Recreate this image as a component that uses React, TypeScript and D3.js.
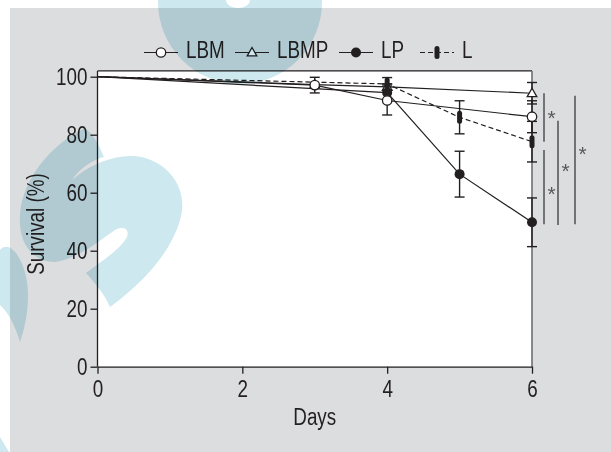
import React, { useEffect, useRef } from 'react';
import * as d3 from 'd3';

// tick labels
const dayTicks = [0, 2, 4, 6];
const survivalTicks = [0, 20, 40, 60, 80, 100];

// series (days, mean survival %, error)
const seriesNames = ['LBM', 'LBMP', 'LP', 'L'];
const lbmDays = [0, 3, 4, 6];
const lbmValues = [100, 97.1, 91.8, 86.2];
const lbmErrors = [0, 2.7, 5, 5.5];
const lbmpDays = [0, 3, 4, 6];
const lbmpValues = [100, 97.3, 96.5, 94.3];
const lbmpErrors = [0, 0, 1, 3.7];
const lpDays = [0, 4, 5, 6];
const lpValues = [100, 94.5, 66.4, 49.8];
const lpErrors = [0, 3, 7.9, 8.4];
const lDays = [0, 4, 5, 6];
const lValues = [100, 97.5, 86.0, 77.6];
const lErrors = [0, 2.2, 5.7, 7];

// significance brackets at day 6
const sigFrom = [94.3, 74.7, 84.8, 93.4];
const sigTo = [77.6, 49.1, 48.9, 49.1];
const sigStar = [87.6, 61.3, 69.2, 74.9];
const sigColumn = [0, 0, 1, 2];

const INK = '#231f20';
// no Arial Narrow here: Liberation Sans squeezed horizontally does the same job
const FONT = "'Liberation Sans', Arial, sans-serif";
const NARROW = 'scale(0.82,1)';

const App = () => {
  const ref = useRef(null);

  useEffect(() => {
    const svg = d3.select(ref.current);
    svg.selectAll('*').remove();

    const x = d3.scaleLinear().domain([0, 6]).range([97.5, 532]);
    const y = d3.scaleLinear().domain([0, 100]).range([366.7, 76.7]);

    // page background
    svg.append('rect').attr('x', 10).attr('y', 8).attr('width', 601).attr('height', 444).attr('fill', '#dcdddf');

    // plot frame
    svg.append('rect')
      .attr('x', x(0)).attr('y', y(102))
      .attr('width', x(6) - x(0)).attr('height', y(0) - y(102))
      .attr('fill', '#fff');
    svg.append('line').attr('x1', x(0)).attr('x2', x(6)).attr('y1', y(102)).attr('y2', y(102))
      .attr('stroke', INK).attr('stroke-width', 1.3);
    svg.append('line').attr('x1', x(6)).attr('x2', x(6)).attr('y1', y(102)).attr('y2', y(0))
      .attr('stroke', '#6d6e71').attr('stroke-width', 1.6);

    const yAxis = svg.append('g').attr('transform', `translate(${x(0)},0)`)
      .call(d3.axisLeft(y).tickValues(survivalTicks).tickFormat(d3.format('d'))
        .tickSize(7).tickSizeOuter(0).tickPadding(3));
    const xAxis = svg.append('g').attr('transform', `translate(0,${y(0)})`)
      .call(d3.axisBottom(x).tickValues(dayTicks).tickFormat(d3.format('d'))
        .tickSize(7).tickSizeOuter(0).tickPadding(7));
    yAxis.select('.domain').attr('d', `M0,${y(0)}V${y(102)}`);
    [xAxis, yAxis].forEach(a => {
      a.selectAll('path, line').attr('stroke', INK).attr('stroke-width', 1.3);
      a.selectAll('text').attr('fill', INK).style('font-family', FONT).style('font-size', '23px');
    });
    // squeeze tick labels around their anchor
    yAxis.selectAll('text').attr('x', 0).attr('transform', `translate(-10,0) ${NARROW}`);
    xAxis.selectAll('text').attr('transform', NARROW);

    svg.append('text')
      .attr('transform', `translate(43.5,224) rotate(-90) ${NARROW}`)
      .attr('text-anchor', 'middle')
      .style('font-family', FONT).style('font-size', '23px').attr('fill', INK)
      .text('Survival (%)');
    svg.append('text')
      .attr('transform', `translate(${(x(0) + x(6)) / 2},425) ${NARROW}`)
      .attr('text-anchor', 'middle')
      .style('font-family', FONT).style('font-size', '23px').attr('fill', INK)
      .text('Days');

    const series = [
      { name: seriesNames[0], days: lbmDays, values: lbmValues, errors: lbmErrors, marker: 'open', dash: null },
      { name: seriesNames[1], days: lbmpDays, values: lbmpValues, errors: lbmpErrors, marker: 'triangle', dash: null },
      { name: seriesNames[2], days: lpDays, values: lpValues, errors: lpErrors, marker: 'filled', dash: null },
      { name: seriesNames[3], days: lDays, values: lValues, errors: lErrors, marker: 'capsule', dash: '5,3' },
    ];

    const drawMarker = (g, kind, cx, cy) => {
      if (kind === 'open') {
        g.append('circle').attr('cx', cx).attr('cy', cy).attr('r', 4.7)
          .attr('fill', '#fff').attr('stroke', INK).attr('stroke-width', 1.3);
      } else if (kind === 'filled') {
        g.append('circle').attr('cx', cx).attr('cy', cy).attr('r', 5).attr('fill', INK);
      } else if (kind === 'triangle') {
        g.append('path').attr('d', `M${cx},${cy - 5}L${cx + 4.8},${cy + 3.4}L${cx - 4.8},${cy + 3.4}Z`)
          .attr('fill', '#fff').attr('stroke', INK).attr('stroke-width', 1.3);
      } else {
        g.append('rect').attr('x', cx - 2.5).attr('y', cy - 6.5).attr('width', 5).attr('height', 13)
          .attr('rx', 2.5).attr('fill', INK);
      }
    };

    const line = d3.line().x(d => x(d[0])).y(d => y(d[1]));
    const plot = svg.append('g');
    series.forEach(s => {
      plot.append('path')
        .attr('d', line(s.days.map((d, i) => [d, s.values[i]])))
        .attr('fill', 'none').attr('stroke', INK).attr('stroke-width', 1.2)
        .attr('stroke-dasharray', s.dash);
    });
    series.forEach(s => {
      s.days.forEach((d, i) => {
        const e = s.errors[i];
        if (!e) return;
        const cx = x(d);
        plot.append('line').attr('x1', cx).attr('x2', cx).attr('y1', y(s.values[i] - e)).attr('y2', y(s.values[i] + e))
          .attr('stroke', INK).attr('stroke-width', 1.4);
        [s.values[i] - e, s.values[i] + e].forEach(v => {
          plot.append('line').attr('x1', cx - 5).attr('x2', cx + 5).attr('y1', y(v)).attr('y2', y(v))
            .attr('stroke', INK).attr('stroke-width', 1.4);
        });
      });
    });
    [series[1], series[2], series[3], series[0]].forEach(s => {
      s.days.forEach((d, i) => {
        if (d === 0) return;
        drawMarker(plot, s.marker, x(d), y(s.values[i]));
      });
    });

    // significance
    const colOffset = [12, 26, 43];
    sigFrom.forEach((v, i) => {
      const lx = x(6) + colOffset[sigColumn[i]];
      svg.append('line').attr('x1', lx).attr('x2', lx).attr('y1', y(v)).attr('y2', y(sigTo[i]))
        .attr('stroke', '#58595b').attr('stroke-width', 1.6);
      svg.append('text').attr('x', lx + 7.5).attr('y', y(sigStar[i]) + 12)
        .attr('text-anchor', 'middle').attr('fill', '#58595b')
        .style('font-family', FONT).style('font-size', '21px').text('*');
    });

    // legend
    const legendX = [144, 235, 339, 420];
    const legend = svg.append('g').attr('transform', 'translate(0,52.5)');
    series.forEach((s, i) => {
      const lx = legendX[i];
      legend.append('line').attr('x1', lx).attr('x2', lx + 34).attr('y1', 0).attr('y2', 0)
        .attr('stroke', INK).attr('stroke-width', 1.2).attr('stroke-dasharray', s.dash);
      drawMarker(legend, s.marker, lx + 17, 0);
      legend.append('text').attr('transform', `translate(${lx + 42},5) ${NARROW}`)
        .style('font-family', FONT).style('font-size', '23px').attr('fill', INK)
        .text(s.name);
    });

    // watermark
    const wm = svg.append('g').style('mix-blend-mode', 'multiply').attr('fill', '#cde8ee');
    wm.append('path').attr('fill-rule', 'evenodd')
      .attr('d', 'M158,2A82,82 0 0 0 322,2L322,0L158,0Z M226,0A12,8 0 0 0 250,0Z');
    wm.append('path').attr('d',
      'M85,128C95,135 100,148 104,157C92,160 80,168 72,180C95,160 125,152 145,158' +
      'C175,167 188,195 180,220C170,255 140,285 110,307C105,295 95,283 86,273' +
      'C100,262 120,250 127,237C130,228 122,226 115,230C100,240 80,258 55,262' +
      'C30,262 18,240 20,215C22,180 50,145 85,128Z');
    wm.append('path').attr('d', 'M0,250C10,238 28,262 28,295C28,315 24,330 20,342C15,325 8,312 0,305Z');
    wm.append('path').attr('d', 'M0,437L9,452L0,452Z');
  }, []);

  return (
    <svg ref={ref} width={611} height={452}
      style={{ position: 'absolute', left: 0, top: 0, display: 'block' }} />
  );
};

export default App;
